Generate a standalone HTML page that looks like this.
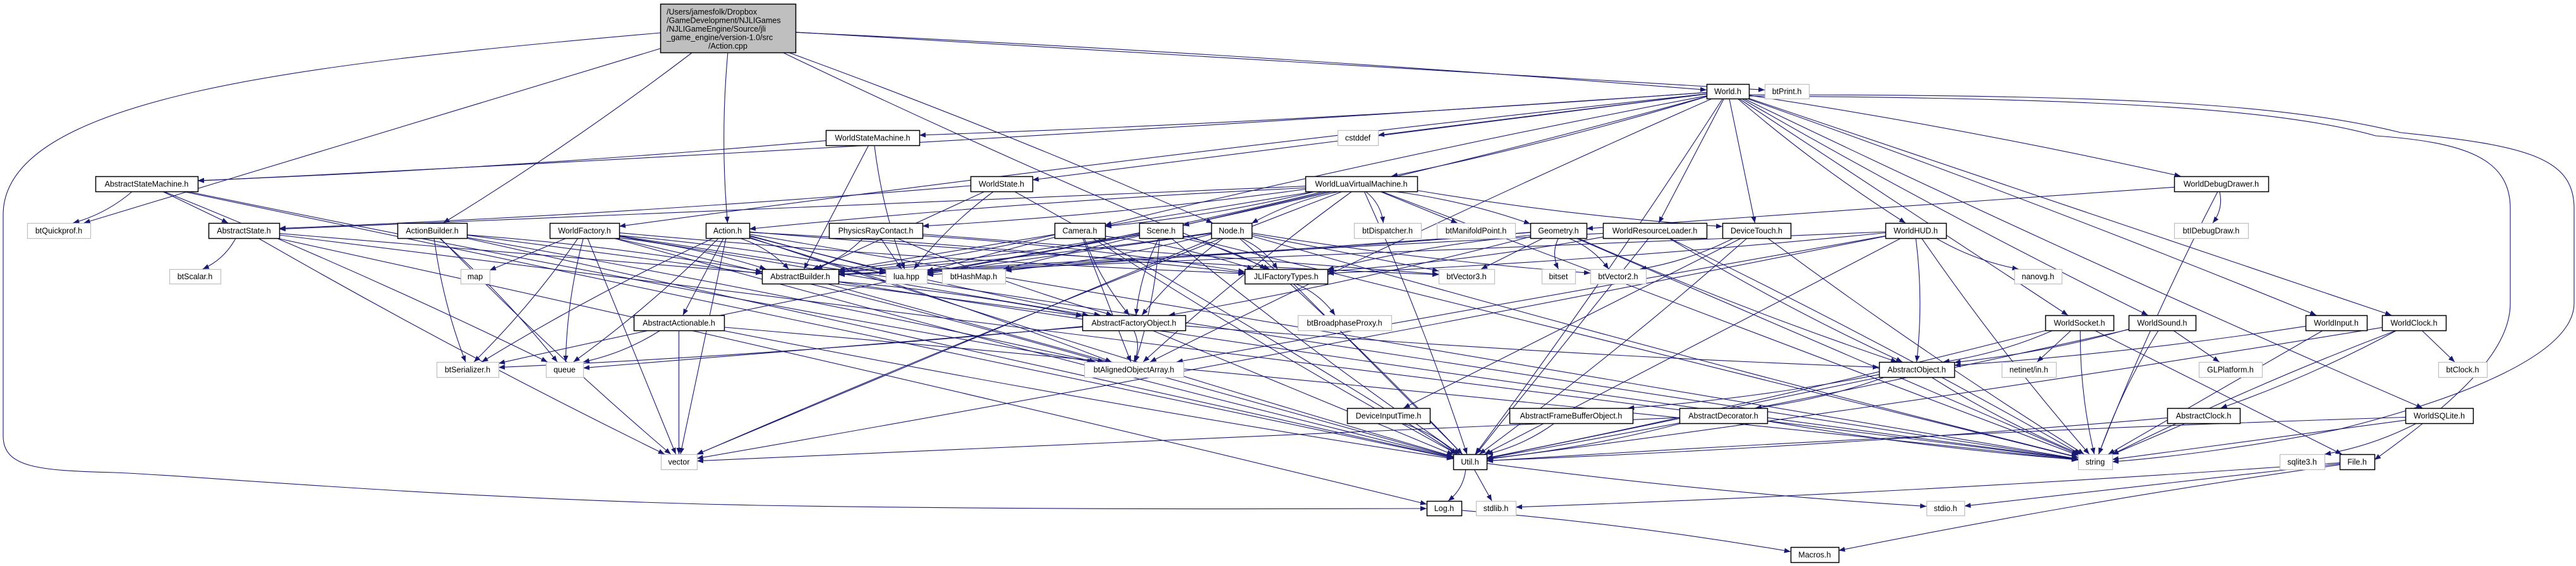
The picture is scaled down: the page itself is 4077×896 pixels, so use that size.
<!DOCTYPE html>
<html><head><meta charset="utf-8">
<style>
html,body{margin:0;padding:0;background:#fff;}
body{width:4077px;height:896px;overflow:hidden;position:relative;}
svg{position:absolute;left:0;top:0;}
text{font-family:"Liberation Sans",sans-serif;font-size:12.5px;fill:#000;}
</style></head>
<body>
<svg id="g" width="4077" height="896" viewBox="0 0 4077 896" xmlns="http://www.w3.org/2000/svg">
<defs>
<marker id="ah" markerWidth="10" markerHeight="8" refX="10" refY="4" orient="auto" markerUnits="userSpaceOnUse">
<path d="M0,0 L10,4 L0,8 z" fill="#191970"/>
</marker>
</defs>
<g id="edges">
<path d="M1045,52 C500,100 5,150 5,340 L5,690 C5,740 60,745 180,748 C300,752 700,790 1200,800 C1700,808 2100,805 2258,805" fill="none" stroke="#191970" stroke-width="1.1" marker-end="url(#ah)"/>
<path d="M2768,150 C3300,150 3600,160 3800,210 C4000,230 4074,250 4074,330 L4074,480 C4074,560 3900,630 3700,680 C3550,710 3420,725 3343,731" fill="none" stroke="#191970" stroke-width="1.1" marker-end="url(#ah)"/>
<path d="M2768,152 C3300,155 3600,170 3760,215 C3900,225 3973,250 3973,330 L3973,480 C3973,560 3880,640 3758,728" fill="none" stroke="#191970" stroke-width="1.1" marker-end="url(#ah)"/>
</g>
<g id="edges2"></g>
<g id="nodes"></g>
</svg>
<script>
var N={
"main":[1045,1259,6,83,2],
"World.h":[2701,2768,133,156,1],
"btPrint.h":[2793,2863,133,156,0],
"WorldStateMachine.h":[1307,1455,206,230,1],
"cstddef":[2117,2181,206,230,0],
"AbstractStateMachine.h":[151,313,279,303,1],
"WorldState.h":[1536,1634,279,303,1],
"WorldLuaVirtualMachine.h":[2066,2243,279,303,1],
"WorldDebugDrawer.h":[3441,3590,279,303,1],
"btQuickprof.h":[43,143,353,377,0],
"AbstractState.h":[330,442,353,377,1],
"ActionBuilder.h":[629,739,353,377,1],
"WorldFactory.h":[870,980,353,377,1],
"Action.h":[1117,1186,353,377,1],
"PhysicsRayContact.h":[1312,1460,353,377,1],
"Camera.h":[1669,1749,353,377,1],
"Scene.h":[1803,1872,353,377,1],
"Node.h":[1917,1981,353,377,1],
"btDispatcher.h":[2143,2249,353,377,0],
"btManifoldPoint.h":[2274,2398,353,377,0],
"Geometry.h":[2422,2511,353,377,1],
"WorldResourceLoader.h":[2537,2701,353,377,1],
"DeviceTouch.h":[2726,2834,353,377,1],
"WorldHUD.h":[2984,3080,353,377,1],
"btIDebugDraw.h":[3441,3558,353,377,0],
"btScalar.h":[268,349,426,449,0],
"map":[729,775,426,449,0],
"AbstractBuilder.h":[1206,1327,426,449,1],
"lua.hpp":[1402,1467,426,449,0],
"btHashMap.h":[1491,1591,426,449,0],
"JLIFactoryTypes.h":[1970,2101,426,449,1],
"btVector3.h":[2277,2365,426,449,0],
"bitset":[2440,2493,426,449,0],
"btVector2.h":[2517,2605,426,449,0],
"nanovg.h":[3188,3263,426,449,0],
"AbstractActionable.h":[1003,1146,499,523,1],
"AbstractFactoryObject.h":[1713,1876,499,523,1],
"btBroadphaseProxy.h":[2054,2202,499,523,0],
"WorldSocket.h":[3237,3345,499,523,1],
"WorldSound.h":[3369,3475,499,523,1],
"WorldInput.h":[3649,3746,499,523,1],
"WorldClock.h":[3770,3871,499,523,1],
"btSerializer.h":[691,789,573,597,0],
"queue":[864,923,573,597,0],
"btAlignedObjectArray.h":[1716,1873,573,597,0],
"AbstractObject.h":[2974,3093,573,597,1],
"netinet/in.h":[3168,3254,573,597,0],
"GLPlatform.h":[3480,3580,573,597,0],
"btClock.h":[3859,3936,573,597,0],
"DeviceInputTime.h":[2132,2263,646,670,1],
"AbstractFrameBufferObject.h":[2389,2584,646,670,1],
"AbstractDecorator.h":[2658,2797,646,670,1],
"AbstractClock.h":[3430,3545,646,670,1],
"WorldSQLite.h":[3807,3914,646,670,1],
"vector":[1046,1103,719,743,0],
"Util.h":[2300,2353,719,743,1],
"string":[3289,3343,719,743,0],
"sqlite3.h":[3608,3679,719,743,0],
"File.h":[3703,3758,719,743,1],
"Log.h":[2258,2313,793,816,1],
"stdlib.h":[2336,2399,793,816,0],
"stdio.h":[3049,3109,793,816,0],
"Macros.h":[2834,2910,866,890,1]
};
var E={
"main":["World.h","btPrint.h","Action.h","ActionBuilder.h","btQuickprof.h","JLIFactoryTypes.h","Node.h"],
"World.h":["WorldStateMachine.h","WorldState.h","WorldFactory.h","WorldLuaVirtualMachine.h","cstddef","Camera.h","Scene.h","WorldResourceLoader.h","WorldHUD.h","WorldDebugDrawer.h","WorldSocket.h","WorldSound.h","WorldInput.h","WorldClock.h","WorldSQLite.h","AbstractStateMachine.h","DeviceTouch.h","btAlignedObjectArray.h","Util.h"],
"WorldStateMachine.h":["AbstractStateMachine.h","AbstractBuilder.h","lua.hpp"],
"AbstractStateMachine.h":["btQuickprof.h","AbstractState.h","btAlignedObjectArray.h","queue","Util.h"],
"AbstractState.h":["btScalar.h","AbstractBuilder.h","vector","Log.h","string"],
"WorldState.h":["AbstractState.h","AbstractBuilder.h","lua.hpp","Util.h"],
"ActionBuilder.h":["AbstractBuilder.h","AbstractFactoryObject.h","btSerializer.h","queue","Util.h","vector","btAlignedObjectArray.h"],
"WorldFactory.h":["AbstractBuilder.h","map","queue","btSerializer.h","AbstractFactoryObject.h","JLIFactoryTypes.h","lua.hpp","vector","Util.h","btAlignedObjectArray.h","string"],
"Action.h":["AbstractBuilder.h","AbstractActionable.h","AbstractFactoryObject.h","JLIFactoryTypes.h","lua.hpp","btSerializer.h","queue","vector","Util.h","btAlignedObjectArray.h","string","btVector3.h"],
"PhysicsRayContact.h":["AbstractBuilder.h","lua.hpp","AbstractFactoryObject.h","JLIFactoryTypes.h","btVector3.h"],
"WorldLuaVirtualMachine.h":["Camera.h","Scene.h","Node.h","btDispatcher.h","btManifoldPoint.h","Action.h","PhysicsRayContact.h","AbstractState.h","DeviceTouch.h","lua.hpp","AbstractBuilder.h","btAlignedObjectArray.h","Util.h","string","vector","Geometry.h"],
"Camera.h":["AbstractBuilder.h","lua.hpp","AbstractFactoryObject.h","JLIFactoryTypes.h","btAlignedObjectArray.h","Util.h"],
"Scene.h":["AbstractBuilder.h","lua.hpp","AbstractFactoryObject.h","JLIFactoryTypes.h","btHashMap.h","btSerializer.h","btAlignedObjectArray.h","string","Util.h"],
"Node.h":["AbstractBuilder.h","lua.hpp","AbstractFactoryObject.h","JLIFactoryTypes.h","btVector3.h","btVector2.h","btHashMap.h","vector","string","Util.h"],
"Geometry.h":["AbstractBuilder.h","lua.hpp","bitset","btVector2.h","btVector3.h","JLIFactoryTypes.h","AbstractFactoryObject.h","string","AbstractObject.h"],
"WorldResourceLoader.h":["JLIFactoryTypes.h","AbstractBuilder.h","AbstractObject.h","string","Util.h"],
"DeviceTouch.h":["btVector2.h","DeviceInputTime.h","string","Util.h"],
"WorldHUD.h":["JLIFactoryTypes.h","AbstractBuilder.h","nanovg.h","AbstractObject.h","Util.h","string","vector","btAlignedObjectArray.h"],
"WorldDebugDrawer.h":["btIDebugDraw.h","Geometry.h","string"],
"JLIFactoryTypes.h":["btBroadphaseProxy.h","Util.h"],
"AbstractFactoryObject.h":["btAlignedObjectArray.h","Util.h","AbstractObject.h","btSerializer.h","queue"],
"AbstractActionable.h":["queue","vector","Util.h","string"],
"AbstractBuilder.h":["AbstractFactoryObject.h","Util.h","string"],
"WorldSocket.h":["AbstractObject.h","netinet/in.h","string","Util.h","File.h"],
"WorldSound.h":["AbstractObject.h","GLPlatform.h","string","Util.h"],
"WorldInput.h":["AbstractObject.h","string"],
"WorldClock.h":["AbstractClock.h","btClock.h","string","Util.h"],
"AbstractObject.h":["AbstractDecorator.h","Util.h","string","AbstractFrameBufferObject.h"],
"AbstractDecorator.h":["Util.h","vector","string"],
"AbstractFrameBufferObject.h":["Util.h"],
"AbstractClock.h":["Util.h","string"],
"WorldSQLite.h":["sqlite3.h","string","Util.h"],
"DeviceInputTime.h":["Util.h"],
"Util.h":["Log.h","stdlib.h","stdio.h"],
"Log.h":["Macros.h"],
"File.h":["stdlib.h","stdio.h","Macros.h"]
};
var NS="http://www.w3.org/2000/svg";
function el(t,a,p){var e=document.createElementNS(NS,t);for(var k in a)e.setAttribute(k,a[k]);p.appendChild(e);return e;}
function clip(b,cx,cy,dx,dy){
  var hw=(b[1]-b[0])/2,hh=(b[3]-b[2])/2;
  var tx=dx!==0?hw/Math.abs(dx):1e9,ty=dy!==0?hh/Math.abs(dy):1e9;var t=Math.min(tx,ty);
  return [cx+dx*t,cy+dy*t];}
var eg=document.getElementById("edges2"),ng=document.getElementById("nodes");
for(var s in E){var a=N[s];var ax=(a[0]+a[1])/2,ay=(a[2]+a[3])/2;
 E[s].forEach(function(t,i){var b=N[t];if(!b)return;var bx=(b[0]+b[1])/2,by=(b[2]+b[3])/2;
  var dx=bx-ax,dy=by-ay;var p=clip(a,ax,ay,dx,dy),q=clip(b,bx,by,-dx,-dy);
  var mx=(p[0]+q[0])/2,my=(p[1]+q[1])/2;var off=((i%3)-1)*12;
  var L=Math.hypot(dx,dy)||1;var c1x=mx-dy/L*off,c1y=my+dx/L*off;
  el("path",{d:"M"+p[0].toFixed(1)+","+p[1].toFixed(1)+" Q"+c1x.toFixed(1)+","+c1y.toFixed(1)+" "+q[0].toFixed(1)+","+q[1].toFixed(1),fill:"none",stroke:"#191970","stroke-width":"1.1","marker-end":"url(#ah)"},eg);
 });}
for(var n in N){var b=N[n];
 el("rect",{x:b[0]+.5,y:b[2]+.5,width:b[1]-b[0],height:b[3]-b[2],fill:b[4]==2?"#bfbfbf":"#fff",stroke:b[4]==0?"#bfbfbf":"#000","stroke-width":b[4]==0?1.2:1.5},ng);
 if(b[4]==2){var L=["/Users/jamesfolk/Dropbox","/GameDevelopment/NJLIGames","/NJLIGameEngine/Source/jli","_game_engine/version-1.0/src"];
  L.forEach(function(s,i){var t=el("text",{x:b[0]+10,y:b[2]+17+i*13.5},ng);t.textContent=s;});
  var t=el("text",{x:(b[0]+b[1])/2,y:b[2]+17+4*13.5,"text-anchor":"middle"},ng);t.textContent="/Action.cpp";}
 else{var t=el("text",{x:(b[0]+b[1])/2,y:(b[2]+b[3])/2+4.5,"text-anchor":"middle"},ng);t.textContent=n;}
}
</script>
</body></html>
